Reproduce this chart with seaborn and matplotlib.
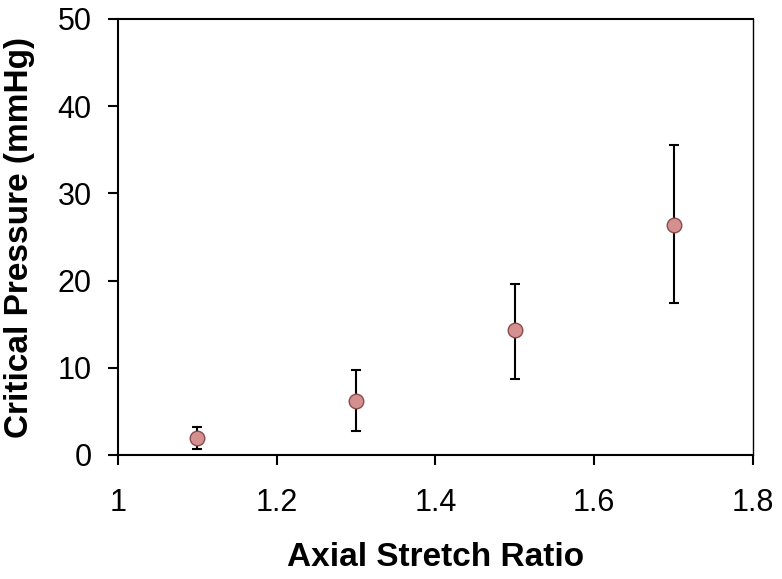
import numpy as np
import pandas as pd
import seaborn as sns
import matplotlib.pyplot as plt

stretch = [1.1, 1.3, 1.5, 1.7]
pressure = [2.0, 6.2, 14.3, 26.4]
err_low = [0.7, 2.8, 8.7, 17.4]
err_high = [3.2, 9.7, 19.6, 35.5]

sns.set_theme(style="white")
plt.rcParams['font.family'] = ['Liberation Sans', 'DejaVu Sans']

df = pd.DataFrame({"x": stretch, "y": pressure})
yerr = [np.array(pressure) - np.array(err_low), np.array(err_high) - np.array(pressure)]

fig, ax = plt.subplots(figsize=(7.82, 5.79), dpi=100)
ax.errorbar(stretch, pressure, yerr=yerr, fmt='none', ecolor='black',
            elinewidth=1.5, capsize=3.3, capthick=1.5, zorder=2)
sns.scatterplot(data=df, x="x", y="y", ax=ax, s=110, color='#d48f8f',
                edgecolor='#8a4b4b', linewidth=1.0, zorder=3)

ax.set_xlim(1, 1.8)
ax.set_ylim(0, 50)
ax.set_xticks([1, 1.2, 1.4, 1.6, 1.8])
ax.set_xticklabels(['1', '1.2', '1.4', '1.6', '1.8'])
ax.set_yticks([0, 10, 20, 30, 40, 50])
ax.tick_params(axis='both', labelsize=22, direction='out', length=7, width=1.5,
               colors='black', bottom=True, left=True)
ax.tick_params(axis='y', pad=12)
ax.tick_params(axis='x', pad=17)
for s in ax.spines.values():
    s.set_color('black')
    s.set_linewidth(1.5)
ax.spines['right'].set_linewidth(1.0)

ax.set_xlabel("Axial Stretch Ratio", fontsize=24, fontweight='bold', color='black')
ax.set_ylabel("Critical Pressure (mmHg)", fontsize=24, fontweight='bold', color='black')
ax.xaxis.set_label_coords(0.5, -0.20)
ax.yaxis.set_label_coords(-0.13, 0.5)

fig.subplots_adjust(left=118/782, right=753/782, top=1 - 19/579, bottom=1 - 455/579)
fig.savefig("out.png", dpi=100)
